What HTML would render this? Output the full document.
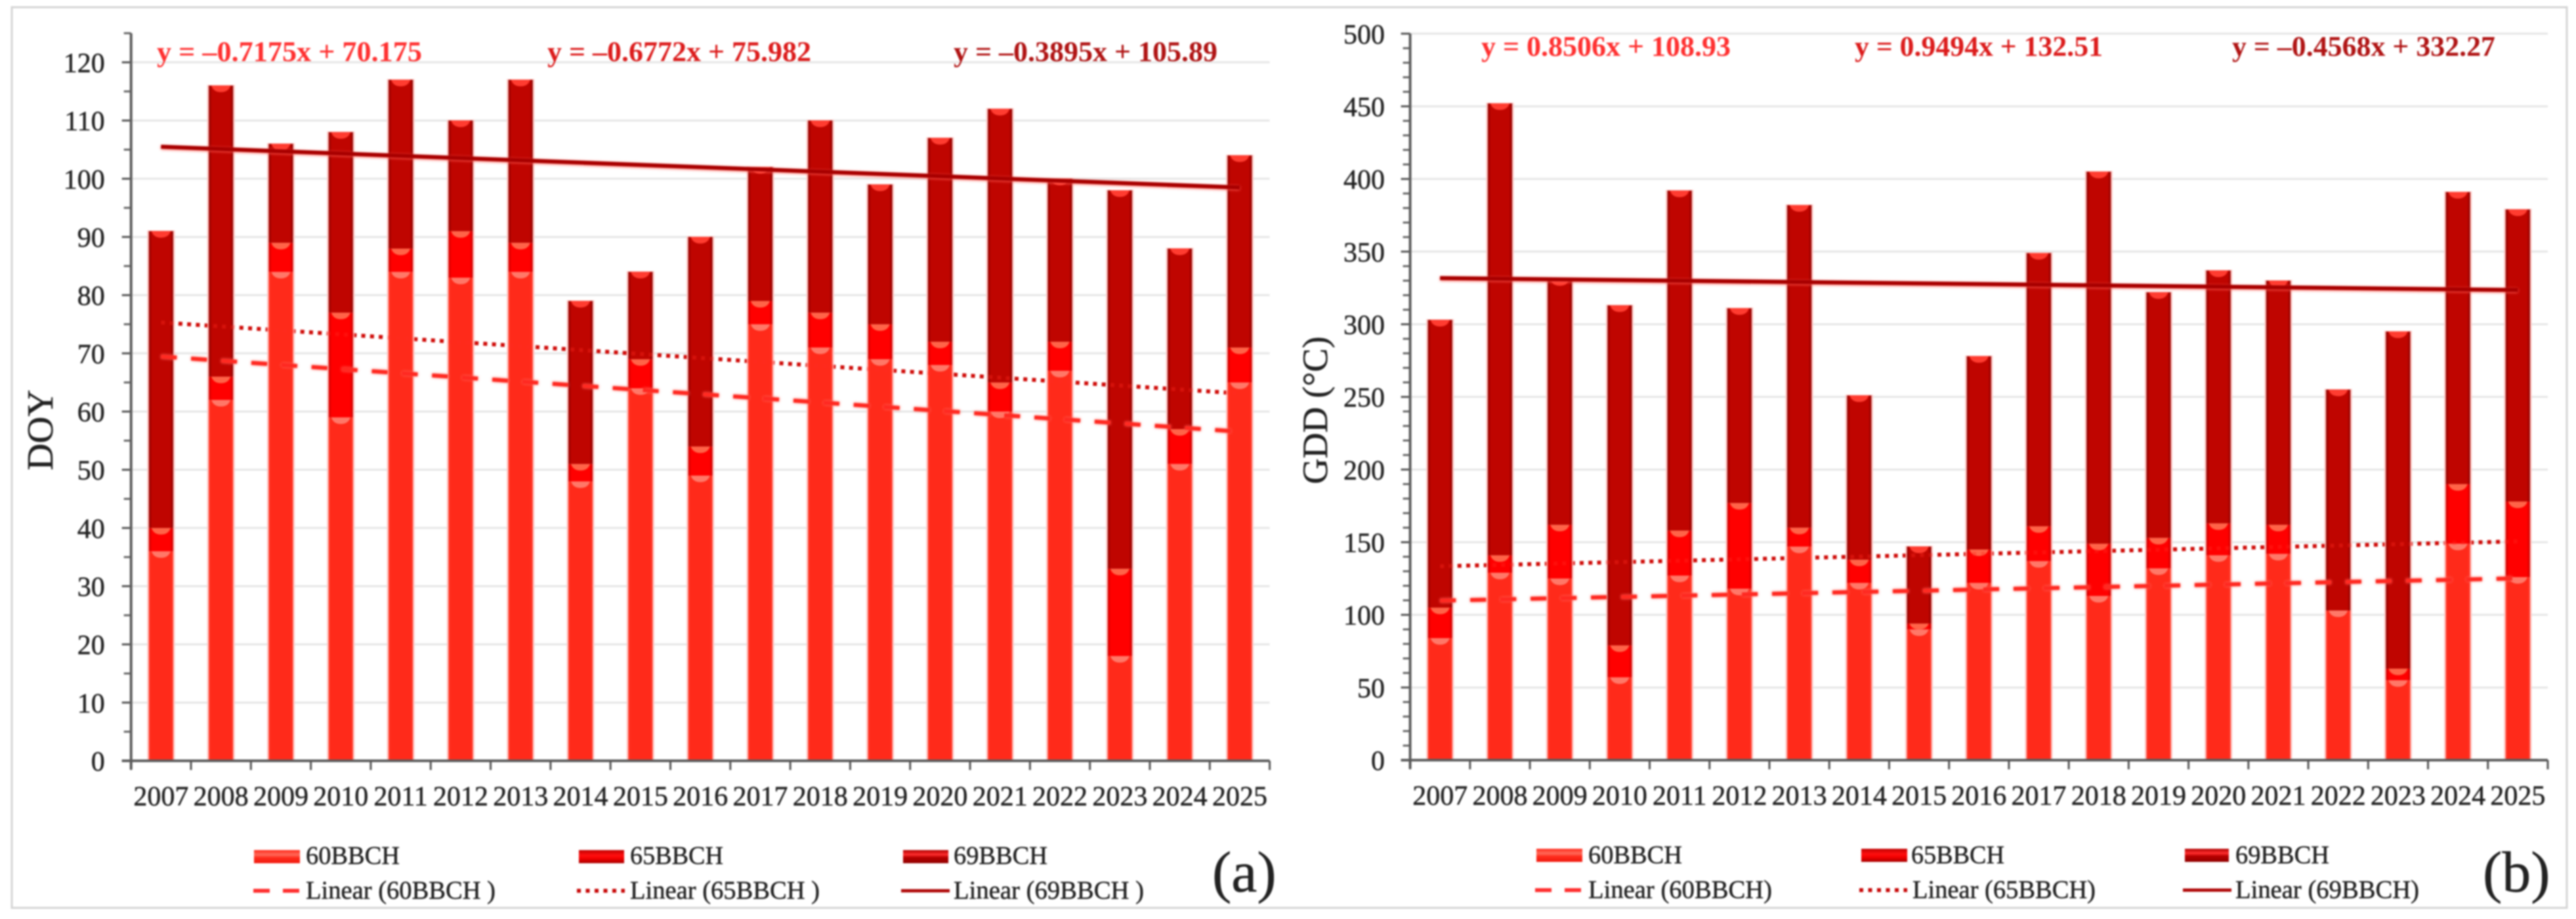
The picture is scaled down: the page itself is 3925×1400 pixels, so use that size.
<!DOCTYPE html>
<html lang="en">
<head>
<meta charset="utf-8">
<title>Flowering phenology: DOY and GDD, 2007–2025</title>
<style>
  html, body { margin: 0; padding: 0; background: #ffffff; width: 3925px; height: 1400px; overflow: hidden; }
  svg { display: block; filter: blur(1.4px); }
  text { font-family: "Liberation Serif", "Times New Roman", serif; fill: #222222; stroke: #222222; stroke-width: 0.5px; }
  .eq { font-weight: bold; font-size: 43px; stroke: none; }
  .leg { font-size: 39px; }
</style>
</head>
<body>
<svg id="figure" xmlns="http://www.w3.org/2000/svg" width="3925" height="1400" viewBox="0 0 3925 1400">
  <defs>
    <linearGradient id="bar60" x1="0" x2="1" y1="0" y2="0"><stop offset="0" stop-color="#ff3a2a"/><stop offset="0.1" stop-color="#ff2a1a"/><stop offset="0.9" stop-color="#ff2a1a"/><stop offset="1" stop-color="#ff3a2a"/></linearGradient>
    <linearGradient id="bar65" x1="0" x2="1" y1="0" y2="0"><stop offset="0" stop-color="#c80000"/><stop offset="0.12" stop-color="#ff0000"/><stop offset="0.88" stop-color="#ff0000"/><stop offset="1" stop-color="#c80000"/></linearGradient>
    <linearGradient id="bar69" x1="0" x2="1" y1="0" y2="0"><stop offset="0" stop-color="#8a0000"/><stop offset="0.12" stop-color="#bf0500"/><stop offset="0.88" stop-color="#bf0500"/><stop offset="1" stop-color="#8a0000"/></linearGradient>
    <linearGradient id="swatch60" x1="0" x2="0" y1="0" y2="1"><stop offset="0" stop-color="#ff2a1a"/><stop offset="0.35" stop-color="#ff6a5a"/><stop offset="0.6" stop-color="#ff2a1a"/><stop offset="1" stop-color="#f01a10"/></linearGradient>
    <linearGradient id="swatch65" x1="0" x2="0" y1="0" y2="1"><stop offset="0" stop-color="#c00000"/><stop offset="0.4" stop-color="#ff1010"/><stop offset="0.65" stop-color="#f00000"/><stop offset="1" stop-color="#a80000"/></linearGradient>
    <linearGradient id="swatch69" x1="0" x2="0" y1="0" y2="1"><stop offset="0" stop-color="#b00000"/><stop offset="0.35" stop-color="#ff3030"/><stop offset="0.55" stop-color="#b80000"/><stop offset="1" stop-color="#900000"/></linearGradient>
  </defs>

  <rect x="18" y="11" width="3893" height="1372" fill="#ffffff" stroke="#d4d4d4" stroke-width="3"/>

  <g id="panel-a"></g>
  <g id="panel-b"></g>

  <text transform="translate(80,655) rotate(-90)" text-anchor="middle" font-size="56" textLength="123" lengthAdjust="spacingAndGlyphs">DOY</text>
  <text transform="translate(2022,625) rotate(-90)" text-anchor="middle" font-size="54" textLength="225" lengthAdjust="spacingAndGlyphs">GDD (°C)</text>

  <text class="eq" x="239" y="93" textLength="404" lengthAdjust="spacingAndGlyphs" style="fill:#ff3030">y = –0.7175x + 70.175</text>
  <text class="eq" x="834" y="93" textLength="402" lengthAdjust="spacingAndGlyphs" style="fill:#dc1c1c">y = –0.6772x + 75.982</text>
  <text class="eq" x="1453" y="93" textLength="402" lengthAdjust="spacingAndGlyphs" style="fill:#b01414">y = –0.3895x + 105.89</text>
  <text class="eq" x="2257" y="85" textLength="380" lengthAdjust="spacingAndGlyphs" style="fill:#ff3030">y = 0.8506x + 108.93</text>
  <text class="eq" x="2826" y="85" textLength="378" lengthAdjust="spacingAndGlyphs" style="fill:#dc1c1c">y = 0.9494x + 132.51</text>
  <text class="eq" x="3401" y="85" textLength="401" lengthAdjust="spacingAndGlyphs" style="fill:#b01414">y = –0.4568x + 332.27</text>

  <g>
    <rect x="387" y="1295" width="70" height="20" fill="url(#swatch60)"/>
    <text class="leg" x="466" y="1316" textLength="143" lengthAdjust="spacingAndGlyphs">60BBCH</text>
    <rect x="882" y="1295" width="69" height="20" fill="url(#swatch65)"/>
    <text class="leg" x="960" y="1316" textLength="142" lengthAdjust="spacingAndGlyphs">65BBCH</text>
    <rect x="1376" y="1295" width="69" height="20" fill="url(#swatch69)"/>
    <text class="leg" x="1453" y="1316" textLength="143" lengthAdjust="spacingAndGlyphs">69BBCH</text>
    <line x1="386" x2="458" y1="1357" y2="1357" stroke="#ff3030" stroke-width="6" stroke-dasharray="25 20"/>
    <text class="leg" x="466" y="1369" textLength="289" lengthAdjust="spacingAndGlyphs">Linear (60BBCH )</text>
    <line x1="879" x2="952" y1="1357" y2="1357" stroke="#c80808" stroke-width="6" stroke-dasharray="6 7.5"/>
    <text class="leg" x="960" y="1369" textLength="289" lengthAdjust="spacingAndGlyphs">Linear (65BBCH )</text>
    <line x1="1373" x2="1447" y1="1357" y2="1357" stroke="#b00808" stroke-width="5"/>
    <text class="leg" x="1453" y="1369" textLength="290" lengthAdjust="spacingAndGlyphs">Linear (69BBCH )</text>
  </g>
  <g>
    <rect x="2341" y="1293" width="70" height="20" fill="url(#swatch60)"/>
    <text class="leg" x="2420" y="1315" textLength="143" lengthAdjust="spacingAndGlyphs">60BBCH</text>
    <rect x="2836" y="1293" width="70" height="20" fill="url(#swatch65)"/>
    <text class="leg" x="2912" y="1315" textLength="142" lengthAdjust="spacingAndGlyphs">65BBCH</text>
    <rect x="3329" y="1293" width="67" height="20" fill="url(#swatch69)"/>
    <text class="leg" x="3406" y="1315" textLength="143" lengthAdjust="spacingAndGlyphs">69BBCH</text>
    <line x1="2339" x2="2411" y1="1356" y2="1356" stroke="#ff3030" stroke-width="6" stroke-dasharray="25 20"/>
    <text class="leg" x="2420" y="1368" textLength="280" lengthAdjust="spacingAndGlyphs">Linear (60BBCH)</text>
    <line x1="2833" x2="2906" y1="1356" y2="1356" stroke="#c80808" stroke-width="6" stroke-dasharray="6 7.5"/>
    <text class="leg" x="2914" y="1368" textLength="279" lengthAdjust="spacingAndGlyphs">Linear (65BBCH)</text>
    <line x1="3326" x2="3400" y1="1356" y2="1356" stroke="#b00808" stroke-width="5"/>
    <text class="leg" x="3406" y="1368" textLength="280" lengthAdjust="spacingAndGlyphs">Linear (69BBCH)</text>
  </g>

  <text x="1847" y="1358" font-size="88">(a)</text>
  <text x="3783" y="1358" font-size="88">(b)</text>
</svg>

<script>
// Categories
const years = [2007, 2008, 2009, 2010, 2011, 2012, 2013, 2014, 2015, 2016, 2017, 2018, 2019, 2020, 2021, 2022, 2023, 2024, 2025];

// Panel (a) DOY: stacked series values
const doy60 = [36, 62, 84, 59, 84, 83, 84, 48, 64, 49, 75, 71, 69, 68, 60, 67, 18, 51, 65];
const doy65 = [4, 4, 5, 18, 4, 8, 5, 3, 5, 5, 4, 6, 6, 4, 5, 5, 15, 6, 6];
const doy69 = [51, 50, 17, 31, 29, 19, 28, 28, 15, 36, 23, 33, 24, 35, 47, 28, 65, 31, 33];
const doySlopes = [-0.7175, -0.6772, -0.3895];
const doyIntercepts = [70.175, 75.982, 105.89];
const doyTickLabels = [0, 10, 20, 30, 40, 50, 60, 70, 80, 90, 100, 110, 120];
const doyMinorTicks = [5, 15, 25, 35, 45, 55, 65, 75, 85, 95, 105, 115, 125];

// Panel (b) GDD: stacked series values
const gdd60 = [84, 129, 125, 57, 127, 118, 147, 122, 90, 122, 137, 113, 132, 141, 142, 103, 55, 149, 126];
const gdd65 = [21, 12, 37, 22, 31, 59, 13, 16, 4, 23, 24, 36, 21, 22, 20, 0, 8, 41, 52];
const gdd69 = [198, 311, 169, 234, 234, 134, 222, 113, 53, 133, 188, 256, 169, 174, 168, 152, 232, 201, 201];
const gddSlopes = [0.8506, 0.9494, -0.4568];
const gddIntercepts = [108.93, 132.51, 332.27];
const gddTickLabels = [0, 50, 100, 150, 200, 250, 300, 350, 400, 450, 500];
const gddMinorTicks = [10, 20, 30, 40, 60, 70, 80, 90, 110, 120, 130, 140, 160, 170, 180, 190, 210, 220, 230, 240, 260, 270, 280, 290, 310, 320, 330, 340, 360, 370, 380, 390, 410, 420, 430, 440, 460, 470, 480, 490];

const SVG_NS = 'http://www.w3.org/2000/svg';

function make(parent, tag, attrs) {
  const el = document.createElementNS(SVG_NS, tag);
  for (const k in attrs) el.setAttribute(k, attrs[k]);
  parent.appendChild(el);
  return el;
}

function drawPanel(rootId, prefix, frame, stacks, slopes, intercepts, majors, minors) {
  const root = document.getElementById(rootId);
  const xStep = (frame.x1 - frame.x0) / years.length;
  const xCenter = function (i) { return frame.x0 + (i + 0.5) * xStep; };
  const yScale = function (v) { return frame.y0 - (v / frame.max) * (frame.y0 - frame.yTop); };
  const barW = 37;

  // Gridlines and y-axis tick labels
  majors.forEach(function (v) {
    if (v > 0) {
      const grid = make(root, 'line', { x1: frame.x0, x2: frame.x1, y1: yScale(v), y2: yScale(v), stroke: '#e6e6e6', 'stroke-width': 3 });
      
      
    }
    const tick = make(root, 'line', { x1: frame.x0 - 14, x2: frame.x0, y1: yScale(v), y2: yScale(v), stroke: '#555555', 'stroke-width': 3 });
    
    
    const label = make(root, 'text', { x: frame.x0 - frame.labelGap, y: yScale(v) + 15, 'text-anchor': 'end', 'font-size': 42 });
    
    
    label.textContent = String(v);
  });
  minors.forEach(function (v) {
    const tick = make(root, 'line', { x1: frame.x0 - 11, x2: frame.x0, y1: yScale(v), y2: yScale(v), stroke: '#666666', 'stroke-width': 3 });
    
    
  });

  // Dark core of the dotted trend sits behind the bars
  const dotCore = make(root, 'line', {
    x1: xCenter(0), x2: xCenter(years.length - 1),
    y1: yScale(slopes[1] * 1 + intercepts[1]),
    y2: yScale(slopes[1] * years.length + intercepts[1]),
    stroke: '#b80000', 'stroke-width': 6, 'stroke-dasharray': '6 7.3'
  });
  
  

  // Stacked bars
  const seriesNames = ['60bbch', '65bbch', '69bbch'];
  const fills = ['url(#bar60)', 'url(#bar65)', 'url(#bar69)'];
  const bevels = ['#ff7868', '#ff6448', '#ff3c30'];
  years.forEach(function (year, i) {
    const x = xCenter(i) - barW / 2;
    let total = 0;
    stacks.forEach(function (s) { total += s[i]; });
    const halo = make(root, 'rect', { x: x - 2.5, y: yScale(total) - 1, width: barW + 5, height: frame.y0 - yScale(total) + 1, fill: '#ffc4c0' });
    
    
    let base = 0;
    stacks.forEach(function (s, k) {
      const top = base + s[i];
      const yTop = yScale(top);
      const h = yScale(base) - yTop;
      if (h > 0.5) {
        const seg = make(root, 'rect', { x: x, y: yTop, width: barW, height: h, fill: fills[k] });
        
        
        const bh = Math.min(h, 10);
        const bevel = make(root, 'path', {
          d: 'M' + (x + 4) + ' ' + yTop + ' L' + (x + barW - 4) + ' ' + yTop +
             ' Q' + (x + barW - 7) + ' ' + (yTop + bh) + ' ' + (x + barW / 2) + ' ' + (yTop + bh) +
             ' Q' + (x + 7) + ' ' + (yTop + bh) + ' ' + (x + 4) + ' ' + yTop + ' Z',
          fill: bevels[k]
        });
        
        
      }
      base = top;
    });
  });

  // Axes
  const xAxis = make(root, 'line', { x1: frame.x0 - 14, x2: frame.x1, y1: frame.y0, y2: frame.y0, stroke: '#5c5c5c', 'stroke-width': 4 });
  
  
  const yAxis = make(root, 'line', { x1: frame.x0, x2: frame.x0, y1: frame.yTop, y2: frame.y0 + 13, stroke: '#5c5c5c', 'stroke-width': 4 });
  
  

  for (let i = 0; i <= years.length; i++) {
    const tx = frame.x0 + i * xStep;
    const xTick = make(root, 'line', { x1: tx, x2: tx, y1: frame.y0, y2: frame.y0 + 14, stroke: '#555555', 'stroke-width': 3 });
    
    
  }
  years.forEach(function (year, i) {
    const label = make(root, 'text', { x: xCenter(i), y: frame.xLabelY, 'text-anchor': 'middle', 'font-size': 42 });
    
    
    label.textContent = String(year);
  });

  // Trend lines from the printed regressions
  const trendStyles = [
    { stroke: '#ff2a22', width: 6, dash: '24 22', glow: 'drop-shadow(0 0 2px #ff6a60)' },
    { stroke: '#ff2a22', width: 6, dash: '6 7.3', glow: 'none', opacity: 0.35 },
    { stroke: '#a80000', width: 6, dash: 'none', glow: 'drop-shadow(0 1px 2px #ff5a50)' }
  ];
  slopes.forEach(function (m, k) {
    const st = trendStyles[k];
    const line = make(root, 'line', {
      x1: xCenter(0), x2: xCenter(years.length - 1),
      y1: yScale(m * 1 + intercepts[k]),
      y2: yScale(m * years.length + intercepts[k]),
      stroke: st.stroke, 'stroke-width': st.width,
      'stroke-dasharray': st.dash,
      opacity: st.opacity || 1
    });
    
    
    line.style.filter = st.glow;
  });
}

drawPanel('panel-a', 'doy',
  { x0: 199.7, x1: 1934.6, y0: 1159, yTop: 50.6, max: 125, labelGap: 40, xLabelY: 1227 },
  [doy60, doy65, doy69], doySlopes, doyIntercepts, doyTickLabels, doyMinorTicks);

drawPanel('panel-b', 'gdd',
  { x0: 2148.6, x1: 3882, y0: 1158, yTop: 51.3, max: 500, labelGap: 38.6, xLabelY: 1226 },
  [gdd60, gdd65, gdd69], gddSlopes, gddIntercepts, gddTickLabels, gddMinorTicks);
</script>
</body>
</html>
